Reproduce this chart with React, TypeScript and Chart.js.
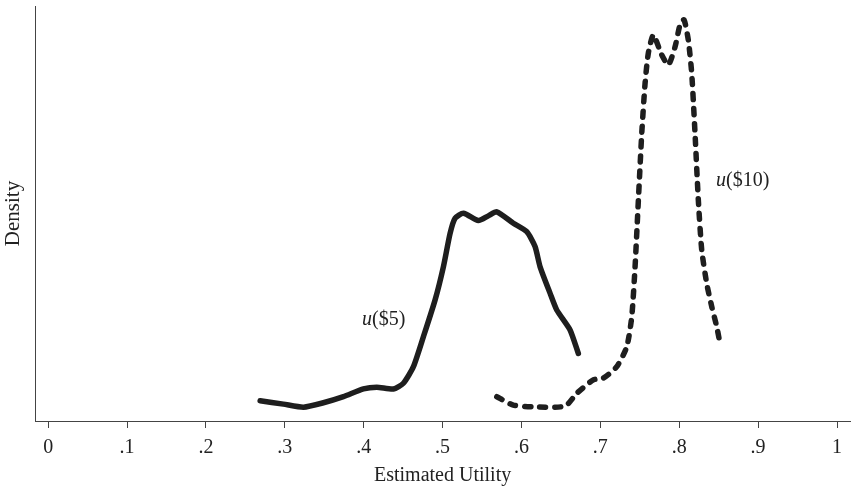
import React, { useEffect, useRef } from "react";
import { Chart, registerables } from "chart.js";

Chart.register(...registerables);

const u5X = [0.2687, 0.2982, 0.3236, 0.3489, 0.3743, 0.3996, 0.4166, 0.4377, 0.4503, 0.463, 0.4757, 0.4905, 0.501, 0.5095, 0.5158, 0.5264, 0.5454, 0.558, 0.5687, 0.5897, 0.6067, 0.6172, 0.6236, 0.6362, 0.6447, 0.6616, 0.6721];
const u5Y = [0.6, 0.5, 0.41, 0.54, 0.72, 0.95, 1.0, 0.95, 1.12, 1.61, 2.5, 3.59, 4.57, 5.56, 6.01, 6.16, 5.94, 6.08, 6.2, 5.86, 5.61, 5.17, 4.57, 3.79, 3.29, 2.7, 2.0];

const u10X = [0.5687, 0.5897, 0.6151, 0.6553, 0.6701, 0.6911, 0.7038, 0.7208, 0.7335, 0.7398, 0.744, 0.7482, 0.7525, 0.7567, 0.7608, 0.7672, 0.7778, 0.7862, 0.7947, 0.801, 0.8061, 0.8115, 0.8158, 0.82, 0.8242, 0.8285, 0.8348, 0.8412, 0.8475, 0.8517];
const u10Y = [0.72, 0.47, 0.42, 0.44, 0.82, 1.22, 1.27, 1.61, 2.2, 3.09, 4.57, 6.55, 8.53, 10.01, 10.9, 11.44, 10.85, 10.55, 11.09, 11.74, 11.89, 11.29, 10.31, 8.53, 6.55, 5.07, 4.08, 3.39, 2.8, 2.3];

const xTicks = [0, 0.1, 0.2, 0.3, 0.4, 0.5, 0.6, 0.7, 0.8, 0.9, 1];

const curveLabels = [
  { italic: "u", rest: "($5)", x: 0.3978, y: 2.99 },
  { italic: "u", rest: "($10)", x: 0.8466, y: 7.11 },
];

const SERIF = "'Liberation Serif', 'DejaVu Serif', serif";
const INK = "#1e1e1e";

const labelPlugin = {
  id: "curveLabels",
  afterDatasetsDraw(chart: any) {
    const { ctx, scales } = chart;
    ctx.save();
    ctx.fillStyle = "#222";
    ctx.textBaseline = "middle";
    ctx.textAlign = "left";
    for (const l of curveLabels) {
      const px = scales.x.getPixelForValue(l.x);
      const py = scales.y.getPixelForValue(l.y);
      ctx.font = `italic 20px ${SERIF}`;
      ctx.fillText(l.italic, px, py);
      const w = ctx.measureText(l.italic).width;
      ctx.font = `20px ${SERIF}`;
      ctx.fillText(l.rest, px + w, py);
    }
    ctx.restore();
  },
};

export default function App() {
  const ref = useRef<HTMLCanvasElement | null>(null);
  useEffect(() => {
    document.body.style.margin = "0";
    const c = ref.current;
    if (!c) return;
    const chart = new Chart(c, {
      type: "line",
      data: {
        datasets: [
          {
            label: "u($5)",
            data: u5X.map((x, i) => ({ x, y: u5Y[i] })),
            borderColor: INK,
            borderWidth: 5.5,
            borderCapStyle: "round",
            borderJoinStyle: "round",
            pointRadius: 0,
            tension: 0.2,
            fill: false,
          },
          {
            label: "u($10)",
            data: u10X.map((x, i) => ({ x, y: u10Y[i] })),
            borderColor: INK,
            borderWidth: 5.5,
            borderDash: [6, 9],
            borderCapStyle: "round",
            borderJoinStyle: "round",
            pointRadius: 0,
            tension: 0.2,
            fill: false,
          },
        ],
      },
      options: {
        animation: false,
        responsive: false,
        maintainAspectRatio: false,
        layout: { padding: { top: 6, right: 2, left: 0, bottom: 0 } },
        plugins: { legend: { display: false }, tooltip: { enabled: false } },
        scales: {
          x: {
            type: "linear",
            min: -0.01648,
            max: 1.01648,
            afterBuildTicks: (axis: any) => {
              axis.ticks = xTicks.map((v) => ({ value: v }));
            },
            ticks: {
              autoSkip: false,
              maxRotation: 0,
              padding: 8,
              color: "#222",
              font: { family: SERIF, size: 20 },
              callback: (v: any) => {
                const n = Number(v);
                if (n === 0) return "0";
                if (n === 1) return "1";
                return "." + Math.round(n * 10);
              },
            },
            grid: { display: true, drawOnChartArea: false, drawTicks: true, tickLength: 7, color: "#444", lineWidth: 1 },
            border: { display: true, color: "#444", width: 1 },
            title: { display: true, text: "Estimated Utility", color: "#222", font: { family: SERIF, size: 20, lineHeight: 1.0 }, padding: { top: -2, bottom: 3 } },
          },
          y: {
            type: "linear",
            min: 0,
            max: 12.3,
            ticks: { display: false },
            grid: { display: false, drawTicks: false },
            border: { display: true, color: "#444", width: 1 },
            title: { display: true, text: "Density", color: "#222", font: { family: SERIF, size: 21 }, padding: { top: 1, bottom: 9 } },
          },
        },
      },
      plugins: [labelPlugin],
    } as any);
    return () => chart.destroy();
  }, []);
  return (
    <div style={{ position: "absolute", left: 0, top: 0, width: 852, height: 489, background: "#fff" }}>
      <canvas ref={ref} width={852} height={489} style={{ width: 852, height: 489, display: "block" }} />
    </div>
  );
}
